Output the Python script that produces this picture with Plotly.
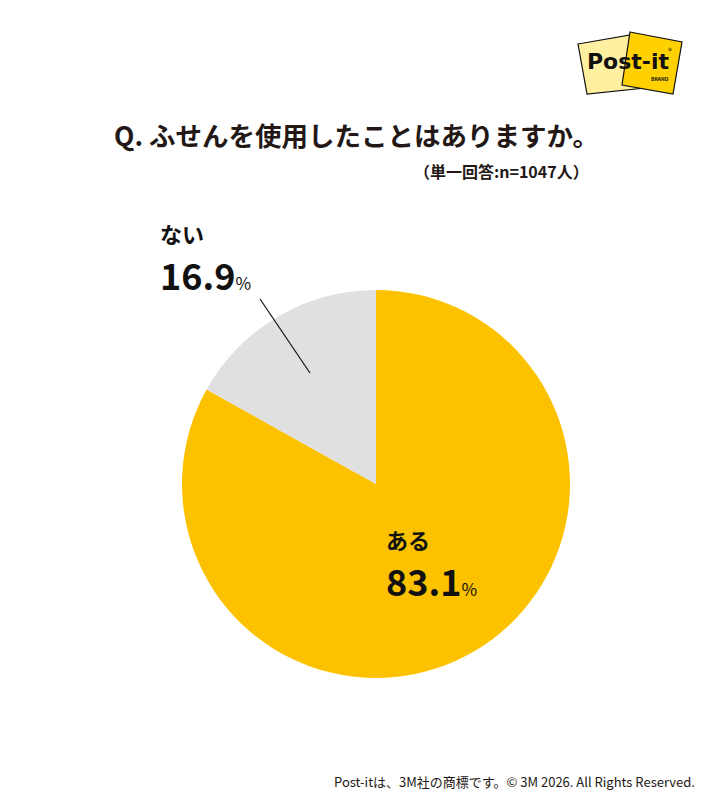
import plotly.graph_objects as go

labels = ["ある", "ない"]
values = [83.1, 16.9]
colors = ["#FCC200", "#E0E0E0"]
title_text = "Q. ふせんを使用したことはありますか。"
subtitle_text = "（単一回答:n=1047人）"
footer_text = "Post-itは、3M社の商標です。© 3M 2026. All Rights Reserved."

W, H = 712, 800
FONT = "Noto Sans CJK JP"
DARK = "#231815"

def px(x):
    return x / W

def py(y):
    return 1 - y / H

fig = go.Figure()
fig.add_trace(go.Pie(
    labels=labels, values=values, sort=False, direction="clockwise", rotation=0,
    marker=dict(colors=colors, line=dict(width=0)),
    textinfo="none", hoverinfo="label+percent", showlegend=False,
    domain=dict(x=[px(182), px(570)], y=[py(678), py(290)]),
))

ann = []
ann.append(dict(x=px(356), y=py(135), text="<b>" + title_text + "</b>",
                font=dict(size=26.5, color=DARK, family=FONT)))
ann.append(dict(x=px(591), y=py(171), xanchor="right", text="<b>" + subtitle_text + "</b>",
                font=dict(size=16, color=DARK, family=FONT)))
# slice labels
pos = {"ない": (158, 233, 158, 274), "ある": (384, 539, 384, 580)}
for lab, val in zip(labels, values):
    lx, ly, vx, vy = pos[lab]
    ann.append(dict(x=px(lx), y=py(ly), xanchor="left", text="<b>" + lab + "</b>",
                    font=dict(size=22, color="#111111", family=FONT)))
    ann.append(dict(x=px(vx), y=py(vy), xanchor="left",
                    text="<b>" + f"{val:.1f}" + "</b><span style='font-size:17px'>%</span>",
                    font=dict(size=36, color="#111111", family=FONT)))
ann.append(dict(x=px(697), y=py(781), xanchor="right", text=footer_text,
                font=dict(size=13, color=DARK, family=FONT)))
# logo text
ann.append(dict(x=px(628), y=py(61), text="<b>Post-it</b>",
                font=dict(size=22, color="#111111", family="DejaVu Sans")))
ann.append(dict(x=px(670), y=py(50), text="®", font=dict(size=8, color="#111111")))
ann.append(dict(x=px(660), y=py(78), text="<b>BRAND</b>", font=dict(size=5, color="#111111")))
for a in ann:
    a.setdefault("xref", "paper"); a.setdefault("yref", "paper")
    a.setdefault("showarrow", False); a.setdefault("yanchor", "middle")
    a.setdefault("xanchor", "center")

def path(pts):
    return "M " + " L ".join(f"{px(x)},{py(y)}" for x, y in pts) + " Z"

shapes = [
    dict(type="path", xref="paper", yref="paper", layer="below",
         path=path([(578, 44), (636, 34), (645, 88), (587, 94)]),
         fillcolor="#FFEFA0", line=dict(color="#111111", width=1.2)),
    dict(type="path", xref="paper", yref="paper", layer="below",
         path=path([(630, 32), (682, 42), (673, 94), (622, 85)]),
         fillcolor="#FFD100", line=dict(color="#111111", width=1.2)),
    dict(type="line", xref="paper", yref="paper",
         x0=px(260), y0=py(299), x1=px(310), y1=py(373),
         line=dict(color="#111111", width=1.2)),
]

fig.update_layout(
    width=W, height=H, margin=dict(l=0, r=0, t=0, b=0),
    paper_bgcolor="white", plot_bgcolor="white",
    annotations=ann, shapes=shapes,
    font=dict(family=FONT),
)
fig.write_html("out.html")
